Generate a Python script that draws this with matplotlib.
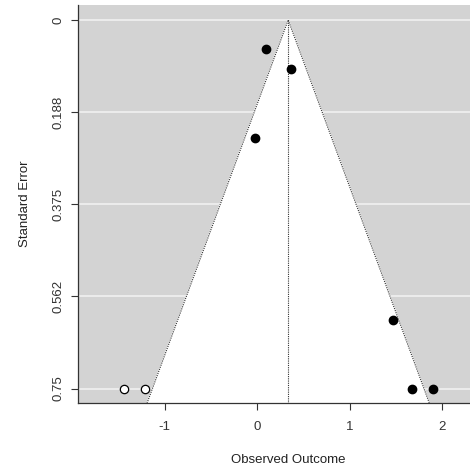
import numpy as np
import matplotlib
matplotlib.use('Agg')
import matplotlib.pyplot as plt

plt.rcParams['font.family'] = ['Liberation Sans', 'DejaVu Sans']

# observed studies (filled) and filled-in studies (open)
obs_x = [0.10, 0.37, -0.02, 1.47, 1.68, 1.90]
obs_se = [0.060, 0.100, 0.241, 0.611, 0.75, 0.75]
fill_x = [-1.44, -1.21]
fill_se = [0.75, 0.75]
est = 0.336
yticks = [0, 0.188, 0.375, 0.562, 0.75]
ytick_labels = ['0', '0.188', '0.375', '0.562', '0.75']
xticks = [-1, 0, 1, 2]

fig = plt.figure(figsize=(4.7, 4.7), dpi=100)
ax = fig.add_axes([0.166, 0.142, 0.894, 0.847])

ylo, yhi = -0.03, 0.78
ax.set_xlim(-1.94, 2.61)
ax.set_ylim(yhi, ylo)
ax.set_facecolor('#d3d3d3')

for t in yticks:
    ax.axhline(t, color='#f0f0f0', lw=1.2, zorder=1)

# funnel region
fx = [est - 1.96 * yhi, est, est + 1.96 * yhi]
fy = [yhi, 0, yhi]
ax.fill(fx, fy, color='white', zorder=2)
ax.plot(fx, fy, color='#333333', lw=0.8, ls=(0, (1, 1)), zorder=3)
ax.plot([est, est], [0, yhi], color='#333333', lw=0.8, ls=(0, (1, 1)), zorder=3)

ax.plot(obs_x, obs_se, 'o', color='black', ms=6, zorder=4)
ax.plot(fill_x, fill_se, 'o', mfc='white', mec='black', mew=0.9, ms=6, zorder=4)

ax.set_yticks(yticks)
ax.set_yticklabels(ytick_labels, rotation=90, va='center')
ax.set_xticks(xticks)
ax.set_xticklabels(['-1', '0', '1', '2'])
ax.tick_params(labelsize=9.5, colors='#333333', length=5, width=0.8)
ax.tick_params(axis='y', pad=5)
ax.tick_params(axis='x', pad=8)

for s in ['top', 'right']:
    ax.spines[s].set_visible(False)
for s in ['left', 'bottom']:
    ax.spines[s].set_color('#333333')
    ax.spines[s].set_linewidth(0.9)

ax.set_xlabel('Observed Outcome', fontsize=9.5, color='#222222', labelpad=15)
ax.set_ylabel('Standard Error', fontsize=9.5, color='#222222', labelpad=15)

fig.savefig('out.png', dpi=100)
